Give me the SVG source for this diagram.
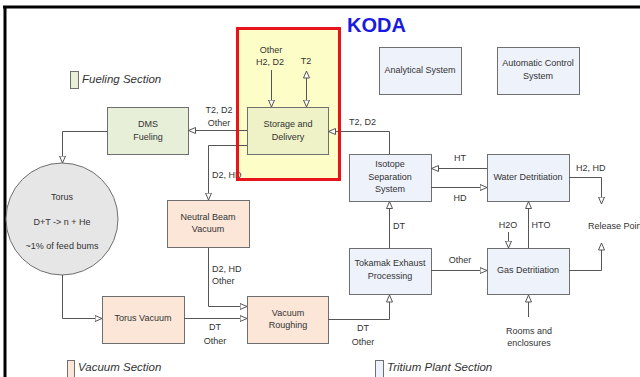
<svg xmlns="http://www.w3.org/2000/svg" width="640" height="377" viewBox="0 0 640 377">
<style>
.box{stroke:#6f6f6f;stroke-width:1}
.fuel{fill:#e8efd9}
.stor{fill:#eef2c6}
.vac{fill:#fbe6d8}
.tri{fill:#eef2fb}
.t{font-family:"Liberation Sans",Arial,sans-serif;font-size:9px;fill:#333;text-anchor:middle}
.l{font-family:"Liberation Sans",Arial,sans-serif;font-size:9px;fill:#333}
.leg{font-family:"Liberation Sans",Arial,sans-serif;font-size:11.5px;font-style:italic;fill:#333}
.c{fill:none;stroke:#555;stroke-width:1}
</style>
<defs>
<marker id="a" viewBox="0 0 8 7" markerWidth="8" markerHeight="7" refX="7.5" refY="3.5" orient="auto-start-reverse" markerUnits="userSpaceOnUse">
<path d="M0.5,0.5 L7.5,3.5 L0.5,6.5 z" fill="#fff" stroke="#555" stroke-width="1"/>
</marker>
</defs>
<rect width="640" height="377" fill="#fff"/>
<!-- frame -->
<line x1="3" y1="7" x2="640" y2="7" stroke="#000" stroke-width="3"/>
<line x1="5" y1="6" x2="5" y2="377" stroke="#000" stroke-width="3"/>
<!-- KODA highlight fill -->
<rect x="237.5" y="28.5" width="102" height="151" fill="#fdfdc8"/>
<text x="347" y="32" font-family="'Liberation Sans',Arial,sans-serif" font-size="20" font-weight="bold" fill="#1a1ae0">KODA</text>
<!-- legends -->
<g id="legend-fueling"><rect x="70.5" y="71.5" width="8" height="17" class="box fuel"/><text x="82" y="83" class="leg">Fueling Section</text></g>
<g id="legend-vacuum"><rect x="67.5" y="360.5" width="7" height="17" class="box vac"/><text x="78" y="371" class="leg">Vacuum Section</text></g>
<g id="legend-tritium"><rect x="375.5" y="360.5" width="8" height="17" class="box tri"/><text x="387" y="371" class="leg">Tritium Plant Section</text></g>
<!-- nodes -->
<g id="analytical"><rect x="379.5" y="47.5" width="82" height="47" class="box tri"/><text x="420" y="73" class="t">Analytical System</text></g>
<g id="autocontrol"><rect x="497.5" y="47.5" width="82" height="47" class="box tri"/><text x="538" y="66" class="t">Automatic Control</text><text x="538" y="79" class="t">System</text></g>
<g id="storage"><rect x="247.5" y="107.5" width="81" height="47" class="box stor"/><text x="288" y="127" class="t">Storage and</text><text x="288" y="140" class="t">Delivery</text></g>
<g id="dms"><rect x="107.5" y="107.5" width="81" height="47" class="box fuel"/><text x="148" y="127" class="t">DMS</text><text x="148" y="140" class="t">Fueling</text></g>
<g id="torus"><circle cx="62" cy="219" r="56" fill="#e6e6e6" stroke="#6f6f6f"/><text x="62" y="200" class="t">Torus</text><text x="62" y="225" class="t">D+T -&gt; n + He</text><text x="62" y="249" class="t">~1% of feed bums</text></g>
<g id="neutral"><rect x="167.5" y="200.5" width="82" height="47" class="box vac"/><text x="208" y="220" class="t">Neutral Beam</text><text x="208" y="232" class="t">Vacuum</text></g>
<g id="torusvac"><rect x="102.5" y="296.5" width="82" height="47" class="box vac"/><text x="143" y="321" class="t">Torus Vacuum</text></g>
<g id="roughing"><rect x="247.5" y="296.5" width="81" height="47" class="box vac"/><text x="288" y="316" class="t">Vacuum</text><text x="288" y="328" class="t">Roughing</text></g>
<g id="isotope"><rect x="349.5" y="154.5" width="82" height="47" class="box tri"/><text x="390" y="167" class="t">Isotope</text><text x="390" y="180" class="t">Separation</text><text x="390" y="192" class="t">System</text></g>
<g id="water"><rect x="487.5" y="154.5" width="82" height="47" class="box tri"/><text x="528" y="180" class="t">Water Detritiation</text></g>
<g id="tokamak"><rect x="349.5" y="248.5" width="82" height="46" class="box tri"/><text x="390" y="266" class="t">Tokamak Exhaust</text><text x="390" y="279" class="t">Processing</text></g>
<g id="gas"><rect x="487.5" y="248.5" width="82" height="46" class="box tri"/><text x="528" y="273" class="t">Gas Detritiation</text></g>
<g id="release"><text x="588" y="229" class="l">Release Poin</text></g>
<g id="rooms"><text x="529" y="334" class="t">Rooms and</text><text x="529" y="346" class="t">enclosures</text></g>
<!-- connectors -->
<g id="connectors">
<path class="c" d="M271.5,70 V107" marker-end="url(#a)"/>
<path class="c" d="M306.5,71 V107" marker-start="url(#a)" marker-end="url(#a)"/>
<path class="c" d="M247,130.5 H188.5" marker-end="url(#a)"/>
<path class="c" d="M107,131.5 H62.5 V163" marker-end="url(#a)"/>
<path class="c" d="M247,145.5 H208.5 V200" marker-end="url(#a)"/>
<path class="c" d="M62.5,275 V318.5 H102" marker-end="url(#a)"/>
<path class="c" d="M208.5,248 V306.5 H247" marker-end="url(#a)"/>
<path class="c" d="M184,318.5 H247" marker-end="url(#a)"/>
<path class="c" d="M328,319.5 H389.5 V295" marker-end="url(#a)"/>
<path class="c" d="M389.5,248 V201.5" marker-end="url(#a)"/>
<path class="c" d="M389.5,154 V131.5 H328.5" marker-end="url(#a)"/>
<path class="c" d="M487,168.5 H431.5" marker-end="url(#a)"/>
<path class="c" d="M431,187.5 H487" marker-end="url(#a)"/>
<path class="c" d="M569,177.5 H601.5 V204" marker-end="url(#a)"/>
<path class="c" d="M569,270.5 H601.5 V243" marker-end="url(#a)"/>
<path class="c" d="M431,270.5 H487" marker-end="url(#a)"/>
<path class="c" d="M528.5,248 V201.5" marker-end="url(#a)"/>
<path class="c" d="M508.5,232 V248" marker-end="url(#a)"/>
<path class="c" d="M528.5,317 V295" marker-end="url(#a)"/>
</g>
<!-- connector labels -->
<g id="labels">
<text x="271" y="53" class="t">Other</text>
<text x="270" y="65" class="t">H2, D2</text>
<text x="306" y="64" class="t">T2</text>
<text x="219" y="113" class="t">T2, D2</text>
<text x="219" y="126" class="t">Other</text>
<text x="212" y="178" class="l">D2, HD</text>
<text x="349" y="125" class="l">T2, D2</text>
<text x="460" y="161" class="t">HT</text>
<text x="460" y="201" class="t">HD</text>
<text x="576" y="171" class="l">H2, HD</text>
<text x="393" y="229" class="l">DT</text>
<text x="508" y="228" class="t">H2O</text>
<text x="541" y="228" class="t">HTO</text>
<text x="460" y="263" class="t">Other</text>
<text x="212" y="272" class="l">D2, HD</text>
<text x="212" y="284" class="l">Other</text>
<text x="215" y="330" class="t">DT</text>
<text x="215" y="344" class="t">Other</text>
<text x="363" y="331" class="t">DT</text>
<text x="363" y="345" class="t">Other</text>
</g>
<!-- KODA highlight border -->
<rect x="237.5" y="28.5" width="102" height="151" fill="none" stroke="#e8141b" stroke-width="3"/>
</svg>
